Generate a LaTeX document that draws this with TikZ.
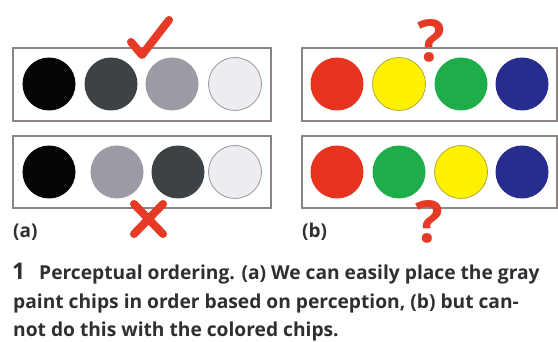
\documentclass[tikz,border=0pt]{standalone}
\usepackage{fontspec}
\setmainfont{Open Sans}
\begin{document}
\begin{tikzpicture}[x=1pt,y=-1pt,
  panel/.style={draw=boxgray, line width=1.1pt, fill=white},
  chip/.style={circle, minimum size=53pt, inner sep=0pt},
  redstroke/.style={draw=markred, line width=8pt},
  qmark/.style={text=markred, font=\fontsize{58}{58}\selectfont\bfseries, inner sep=0pt},
  lbl/.style={font=\fontsize{19}{19}\selectfont\bfseries, text=txt, anchor=base west, inner sep=0pt},
  captext/.style={font=\fontsize{19.2}{19.2}\selectfont\bfseries, text=txt, anchor=base west, inner sep=0pt}]
\definecolor{boxgray}{HTML}{8C8480}
\definecolor{markred}{HTML}{E53A26}
\definecolor{txt}{HTML}{2E2E33}
\definecolor{cblack}{HTML}{050505}
\definecolor{cdark}{HTML}{3C4245}
\definecolor{cmid}{HTML}{9A9BA4}
\definecolor{clight}{HTML}{EDEDF1}
\definecolor{cred}{HTML}{E8331F}
\definecolor{cyel}{HTML}{FFF200}
\definecolor{cgreen}{HTML}{1EAD4A}
\definecolor{cblue}{HTML}{272D8E}
\useasboundingbox[fill=white] (0,0) rectangle (558,342);
% panels
\draw[panel] (13,48) rectangle (271,121);
\draw[panel] (13,136) rectangle (271,208);
\draw[panel] (302,48) rectangle (557,121);
\draw[panel] (302,136) rectangle (557,208);
% gray chips
\node[chip, fill=cblack] (a1) at (49,84) {};
\node[chip, fill=cdark] (a2) at (111,84) {};
\node[chip, fill=cmid] (a3) at (172,84) {};
\node[chip, fill=clight, draw=gray!80, line width=0.8pt] (a4) at (235,84) {};
\node[chip, fill=cblack] (b1) at (49,172) {};
\node[chip, fill=cmid] (b2) at (117,172) {};
\node[chip, fill=cdark] (b3) at (178,172) {};
\node[chip, fill=clight, draw=gray!80, line width=0.8pt] (b4) at (235,172) {};
% color chips
\node[chip, fill=cred] (c1) at (337,84) {};
\node[chip, fill=cyel, draw=olive!70, line width=0.8pt] (c2) at (399,84) {};
\node[chip, fill=cgreen] (c3) at (461,84) {};
\node[chip, fill=cblue] (c4) at (522,84) {};
\node[chip, fill=cred] (d1) at (337,172) {};
\node[chip, fill=cgreen] (d2) at (399,172) {};
\node[chip, fill=cyel, draw=olive!70, line width=0.8pt] (d3) at (461,172) {};
\node[chip, fill=cblue] (d4) at (522,172) {};
% check mark and cross
\draw[redstroke, line cap=round, line join=round] (131,42) -- (142,55) -- (169,20);
\draw[redstroke, line cap=round] (134,204) -- (163,234);
\draw[redstroke, line cap=round] (163,204) -- (134,234);
% question marks
\node[qmark] (q1) at (431,41) {?};
\node[qmark] (q2) at (429,222) {?};
% labels
\node[lbl] (la) at (13,238) {(a)};
\node[lbl] (lb) at (302,238) {(b)};
% caption
\node[font=\fontsize{23}{23}\selectfont\bfseries, text=txt, anchor=base west, inner sep=0pt] (n1) at (12,280) {1};
\node[captext] (c1l) at (39,280) {Perceptual ordering. (a) We can easily place the gray};
\node[captext] (c2l) at (13,308.5) {paint chips in order based on perception, (b) but can-};
\node[captext] (c3l) at (13,337) {not do this with the colored chips.};
\end{tikzpicture}
\end{document}
